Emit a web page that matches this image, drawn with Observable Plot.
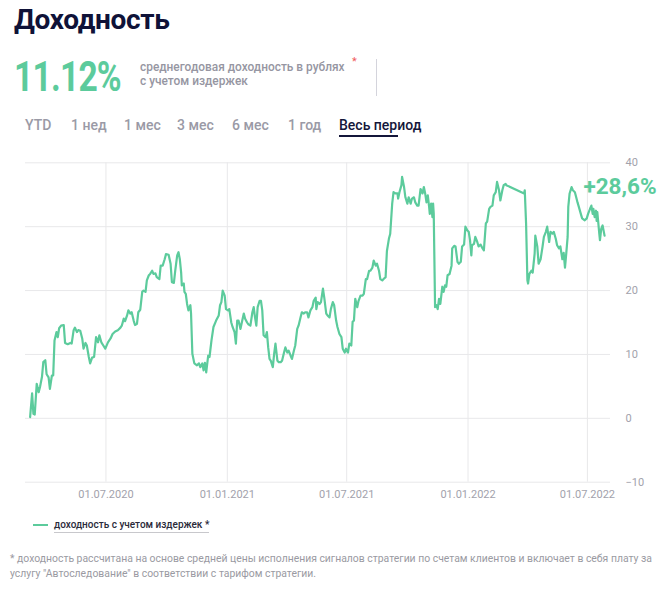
<!DOCTYPE html>
<html>
<head>
<meta charset="utf-8">
<script src="https://cdn.jsdelivr.net/npm/d3@7"></script>
<script src="https://cdn.jsdelivr.net/npm/@observablehq/plot@0.6"></script>
<style>
  html, body { margin: 0; padding: 0; background: #fff; }
  body { width: 662px; height: 589px; position: relative; overflow: hidden; font-family: Roboto, "Noto Sans", sans-serif; }
  .abs { position: absolute; white-space: nowrap; }
  #title { left: 14px; top: 0px; font-size: 28px; font-weight: 700; color: #0f1238; line-height: 40px; letter-spacing: -0.3px; }
  #big { left: 14px; top: 52px; font-size: 42px; font-weight: 700; color: #5ccb9c; line-height: 50px; letter-spacing: -1px; transform: scaleX(0.8); transform-origin: left center; }
  #sub { left: 140px; top: 60px; font-size: 11.9px; font-weight: 500; color: #9696a2; line-height: 14px; }
  #star { left: 352px; top: 55px; font-size: 11px; color: #f05a5a; }
  #divider { left: 376px; top: 59px; width: 1px; height: 37px; background: #d4d4dc; }
  .tab { top: 116px; font-size: 14px; font-weight: 500; color: #9a9aa6; line-height: 18px; }
  #tabActive { color: #14163a; }
  #underline { left: 339px; top: 135px; width: 59px; height: 2px; background: #14163a; }
  #chart { left: 0; top: 150px; }
  #legLine { left: 33px; top: 524px; width: 15px; height: 2px; background: #5ccb9c; }
  #legText { left: 54px; top: 518px; font-size: 10px; font-weight: 500; color: #2a2a3a; line-height: 13px; border-bottom: 1px solid #c8c8cc; padding-bottom: 1px; }
  #foot { left: 10px; top: 551px; font-size: 10.4px; color: #9a9aa2; line-height: 15px; }
</style>
</head>
<body>
<div id="title" class="abs">Доходность</div>
<div id="big" class="abs">11.12%</div>
<div id="sub" class="abs">среднегодовая доходность в рублях<br>с учетом издержек</div>
<div id="star" class="abs">*</div>
<div id="divider" class="abs"></div>
<div class="abs tab" style="left:25px">YTD</div>
<div class="abs tab" style="left:71px">1 нед</div>
<div class="abs tab" style="left:124px">1 мес</div>
<div class="abs tab" style="left:177px">3 мес</div>
<div class="abs tab" style="left:232px">6 мес</div>
<div class="abs tab" style="left:288px">1 год</div>
<div class="abs tab" id="tabActive" style="left:339px">Весь период</div>
<div id="underline" class="abs"></div>
<div id="chart" class="abs"></div>
<div id="legLine" class="abs"></div>
<div id="legText" class="abs">доходность с учетом издержек *</div>
<div id="foot" class="abs">* доходность рассчитана на основе средней цены исполнения сигналов стратегии по счетам клиентов и включает в себя плату за<br>услугу "Автоследование" в соответствии с тарифом стратегии.</div>
<script>
// Data: day offsets from 01.07.2020 and cumulative return (%) with costs
const baseDate = "2020-07-01";
const days = [
-115,-112,-110,-108,-105,-102,-100,-97,-95,-92,-90,-87,-85,-82,-80,-78,-75,-73,-71,-68,-64,-62,-58,-54,-52,-49,-47,-44,-42,-39,-36,-34,-31,-29,-26,-24,-21,-18,-15,-12,-10,-7,-4,-1,3,7,10,14,18,22,
24,27,29,32,34,37,39,42,44,47,49,52,55,57,60,62,65,67,70,72,75,77,81,83,86,89,91,95,98,100,103,105,108,110,112,114,115,118,119,121,123,125,128,129,131,134,138,141,143,146,148,150,152,155,157,160,163,167,171,173,
175,177,180,182,185,187,190,192,195,197,199,201,204,206,209,211,214,216,219,222,224,226,228,230,233,235,237,239,242,244,246,248,250,253,255,257,260,262,265,267,270,272,275,277,280,282,285,287,290,292,295,297,300,302,305,307,310,
313,315,318,319,321,324,326,329,331,334,336,339,341,344,346,349,351,354,357,359,362,364,367,369,372,374,376,378,381,383,386,389,391,394,396,399,401,404,406,409,411,414,416,419,421,424,426,429,431,434,436,439,442,443,445,448,449,452,454,
457,459,462,464,467,469,472,474,477,480,482,484,486,488,490,491,493,495,496,497,499,501,503,505,507,510,512,514,516,518,521,524,525,528,530,533,535,538,540,543,545,548,550,552,554,555,558,560,563,565,568,571,573,576,578,581,583,586,588,591,593,596,598,601,603,606,
607,634,635,637,639,640,642,645,647,650,651,654,656,659,662,664,667,669,672,674,677,679,682,684,687,689,692,694,696,698,700,701,703,706,708,711,713,715,717,720,722,726,729,731,734,736,738,739,741,743,744,745,748,749,751,753,756
];
const returns = [
0.2,3.9,0.7,0.6,5.4,4.1,4.9,6.5,8.8,9.1,6.9,6.4,4.6,6.7,6.7,12.2,13.5,12.7,14.1,14.5,14.6,11.8,11.6,11.8,11.7,13.8,14.2,13.5,13.8,13.7,12.5,10.9,11.8,11.4,9.6,8.6,9.5,9.6,12.7,11.9,13.0,11.9,11.4,10.9,11.9,12.5,13.2,13.6,13.8,14.2,
14.5,15.6,15.2,16.1,16.9,16.4,16.6,15.3,14.6,14.8,16.6,17.0,19.8,20.0,19.8,21.6,22.4,22.6,23.1,22.6,22.7,22.1,21.8,23.9,23.9,24.9,25.7,25.6,24.2,21.3,21.2,23.1,25.5,26.0,24.9,22.8,20.8,21.1,19.8,19.5,17.9,16.9,17.7,16.4,10.1,8.6,8.3,8.6,8.0,8.6,7.5,8.7,7.2,9.8,9.6,12.2,14.3,15.3,16.1,17.7,
18.2,20.0,19.2,17.1,16.9,17.1,15.0,14.3,13.5,11.7,15.3,15.3,14.0,15.0,16.4,15.6,15.0,14.7,14.5,16.6,17.4,15.8,14.5,17.4,18.4,18.4,16.9,13.0,12.7,13.5,11.1,9.3,9.0,8.0,10.1,11.7,9.0,8.8,8.8,9.0,10.3,11.1,10.3,10.6,9.8,9.3,10.6,11.4,14.0,14.5,15.8,16.6,16.4,16.6,16.6,15.8,16.9,
17.4,18.4,18.9,17.1,18.2,17.9,18.2,20.3,18.9,16.4,16.1,15.8,17.1,18.2,17.7,15.3,14.3,13.2,12.7,10.9,10.3,10.9,10.3,11.7,11.4,15.1,15.3,18.7,17.4,18.4,19.2,19.2,19.5,21.8,21.8,23.1,23.1,23.6,24.7,23.9,24.2,23.1,21.8,21.6,21.8,22.1,26.2,28.1,28.9,33.6,35.4,35.2,35.2,34.4,35.4,36.5,37.8,36.2,34.6,
33.6,34.6,33.6,34.4,34.6,33.8,33.3,33.3,35.9,35.2,36.2,35.2,33.8,34.9,33.1,32.0,33.6,31.5,33.6,32.0,17.4,17.7,17.1,18.7,17.9,20.6,19.8,20.8,20.6,22.4,22.6,23.9,26.6,27.0,26.9,24.5,24.2,24.5,26.9,27.2,30.0,29.4,29.2,27.9,25.5,27.1,27.3,28.4,27.6,26.9,27.2,26.6,26.3,30.5,30.8,32.8,33.1,33.3,34.9,35.4,37.0,35.7,34.1,35.7,36.5,36.7,
36.5,35.2,35.7,30.5,21.6,21.1,22.6,23.1,22.8,25.8,28.6,26.9,24.2,24.9,26.9,28.4,29.2,30.0,27.6,29.2,28.9,29.2,28.1,27.1,26.6,26.9,24.9,25.9,23.6,25.9,28.4,33.1,35.2,36.2,35.7,35.4,34.6,33.8,33.1,32.0,31.3,31.0,31.3,32.0,32.8,33.3,32.0,32.8,31.5,32.5,30.9,32.3,28.9,27.9,29.7,30.2,28.6
];
const xDomain = ["2020-03-01", "2022-08-05"];
const xTicks = ["2020-07-01", "2021-01-01", "2021-07-01", "2022-01-01", "2022-07-01"];
const yTicks = [-10, 0, 10, 20, 30, 40];
const lastLabel = "+28,6%";

const base = new Date(baseDate);
const data = days.map((d, i) => ({date: d3.utcDay.offset(base, d), value: returns[i]}));
const tickDates = xTicks.map(s => new Date(s));
const fmt = d3.utcFormat("%d.%m.%Y");
const green = "#5ccb9c";
const grid = "#e8e8ea";

const chart = Plot.plot({
  width: 662,
  height: 360,
  marginLeft: 25,
  marginRight: 52,
  marginTop: 12.3,
  marginBottom: 28.3,
  style: {fontFamily: "Roboto, 'Noto Sans', sans-serif", fontSize: "11px", color: "#a2a2ac", background: "transparent"},
  x: {type: "utc", domain: xDomain.map(s => new Date(s))},
  y: {domain: [-10, 40]},
  marks: [
    Plot.gridY(yTicks, {stroke: grid, strokeOpacity: 1, strokeWidth: 1}),
    Plot.gridX(tickDates, {stroke: grid, strokeOpacity: 1, strokeWidth: 1}),
    Plot.axisY(yTicks, {anchor: "right", tickSize: 0, tickPadding: 15, label: null, fill: "#a2a2ac"}),
    Plot.axisX(tickDates, {tickSize: 0, tickPadding: 8, tickFormat: fmt, label: null, fill: "#a2a2ac"}),
    Plot.line(data, {x: "date", y: "value", stroke: green, strokeWidth: 2.2}),
    Plot.text([data[data.length - 1]], {x: "date", y: "value", text: () => lastLabel, textAnchor: "end", dx: 52, dy: -48.5, fill: green, fontSize: 22.5, fontWeight: "bold"})
  ]
});
document.getElementById("chart").appendChild(chart);
</script>
</body>
</html>
